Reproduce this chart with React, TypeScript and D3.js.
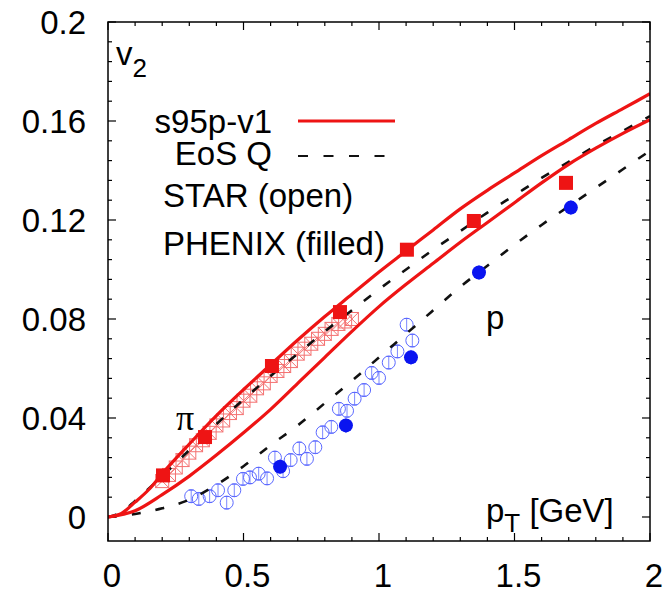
import React from "react";
import * as d3 from "d3";

// ---- data ----
const xTicks = [0, 0.5, 1, 1.5, 2];
const xTickLabels = ["0", "0.5", "1", "1.5", "2"];
const yTicks = [0, 0.04, 0.08, 0.12, 0.16, 0.2];
const yTickLabels = ["0", "0.04", "0.08", "0.12", "0.16", "0.2"];

// hydro s95p-v1 (solid red)
const pionS95pPt = [0, 0.05, 0.1, 0.15, 0.2, 0.3, 0.4, 0.5, 0.6, 0.7, 0.8, 0.9, 1.0, 1.1, 1.2, 1.3, 1.4, 1.5, 1.6, 1.7, 1.8, 1.9, 2.0];
const pionS95pV2 = [0, 0.0015, 0.006, 0.011, 0.0175, 0.0295, 0.041, 0.0515, 0.0615, 0.0715, 0.081, 0.09, 0.099, 0.1075, 0.116, 0.1245, 0.132, 0.139, 0.146, 0.1525, 0.159, 0.165, 0.171];
const protonS95pPt = [0, 0.1, 0.2, 0.3, 0.4, 0.5, 0.6, 0.7, 0.8, 0.9, 1.0, 1.1, 1.2, 1.3, 1.4, 1.5, 1.6, 1.7, 1.8, 1.9, 2.0];
const protonS95pV2 = [0, 0.0025, 0.009, 0.0165, 0.025, 0.034, 0.0435, 0.054, 0.0645, 0.075, 0.085, 0.094, 0.1025, 0.111, 0.119, 0.127, 0.135, 0.1425, 0.149, 0.155, 0.1605];

// EoS Q (dashed black)
const pionEosQPt = [0, 0.05, 0.1, 0.2, 0.3, 0.4, 0.5, 0.6, 0.7, 0.8, 0.9, 1.0, 1.1, 1.2, 1.3, 1.4, 1.5, 1.6, 1.7, 1.8, 1.9, 2.0];
const pionEosQV2 = [0, 0.002, 0.0065, 0.0165, 0.027, 0.0375, 0.0475, 0.057, 0.066, 0.075, 0.0835, 0.092, 0.1, 0.108, 0.1155, 0.123, 0.13, 0.137, 0.1435, 0.15, 0.156, 0.162];
const protonEosQPt = [0, 0.1, 0.2, 0.3, 0.4, 0.5, 0.6, 0.7, 0.8, 0.9, 1.0, 1.1, 1.2, 1.3, 1.4, 1.5, 1.6, 1.7, 1.8, 1.9, 2.0];
const protonEosQV2 = [0, 0.0012, 0.0035, 0.007, 0.013, 0.0205, 0.029, 0.037, 0.046, 0.055, 0.0645, 0.074, 0.0835, 0.093, 0.1015, 0.11, 0.118, 0.1255, 0.133, 0.1405, 0.148];

// PHENIX (filled)
const phenixPionPt = [0.203, 0.358, 0.605, 0.856, 1.103, 1.35, 1.69];
const phenixPionV2 = [0.0168, 0.0323, 0.061, 0.0828, 0.108, 0.1196, 0.135];
const phenixProtonPt = [0.635, 0.878, 1.118, 1.369, 1.708];
const phenixProtonV2 = [0.0203, 0.037, 0.0645, 0.0988, 0.125];

// STAR (open)
const starPionPt = [0.2, 0.225, 0.25, 0.275, 0.3, 0.325, 0.35, 0.375, 0.4, 0.425, 0.45, 0.475, 0.5, 0.525, 0.55, 0.575, 0.6, 0.625, 0.65, 0.675, 0.7, 0.725, 0.75, 0.775, 0.8, 0.825, 0.85, 0.875, 0.9];
const starPionV2 = [0.0145, 0.017, 0.02, 0.023, 0.026, 0.029, 0.031, 0.034, 0.037, 0.039, 0.042, 0.044, 0.047, 0.049, 0.052, 0.054, 0.057, 0.059, 0.061, 0.063, 0.066, 0.068, 0.07, 0.072, 0.074, 0.076, 0.078, 0.079, 0.08];
const starProtonPt = [0.307, 0.335, 0.375, 0.406, 0.438, 0.466, 0.498, 0.524, 0.556, 0.587, 0.616, 0.646, 0.674, 0.706, 0.734, 0.765, 0.792, 0.824, 0.852, 0.882, 0.91, 0.945, 0.973, 1.0, 1.036, 1.068, 1.102, 1.123];
const starProtonV2 = [0.0084, 0.0073, 0.0084, 0.0108, 0.0058, 0.0108, 0.0154, 0.016, 0.0175, 0.0156, 0.024, 0.0185, 0.023, 0.0277, 0.0235, 0.0282, 0.0342, 0.0364, 0.0437, 0.0429, 0.0478, 0.0513, 0.0582, 0.0562, 0.0624, 0.0669, 0.0777, 0.0713];
const starProtonErr = 0.0025;

const RED = "#ee1414";
const BLUE = "#0a14f0";
const LIGHTBLUE = "#4050ff";

const FONT = "'Liberation Sans', Arial, Helvetica, sans-serif";

export default function App() {
  const W = 670, H = 593;
  const left = 108, right = 650, top = 22, bottom = 541;
  const x = d3.scaleLinear().domain([0, 2]).range([left, right]);
  const y = d3.scaleLinear().domain([-0.0097, 0.2]).range([bottom, top]);

  const line = d3.line<[number, number]>()
    .x((d) => x(d[0]))
    .y((d) => y(d[1]))
    .curve(d3.curveMonotoneX);

  const zip = (a: number[], b: number[]) => a.map((v, i) => [v, b[i]] as [number, number]);

  const xMinor = d3.range(0, 2.0001, 0.1);
  const yMinor = d3.range(0, 0.2001, 0.008);

  const fs = 33;

  return (
    <svg width={W} height={H} style={{ position: "absolute", left: 0, top: 0, background: "#fff" }}>
      <rect x={0} y={0} width={W} height={H} fill="#fff" />
      <defs>
        <clipPath id="plotclip">
          <rect x={left} y={top} width={right - left} height={bottom - top} />
        </clipPath>
      </defs>

      {/* ticks */}
      <g stroke="#000" strokeWidth={1.2}>
        {xMinor.map((v, i) => {
          const major = xTicks.some((t) => Math.abs(t - v) < 1e-6);
          const len = major ? 8 : 4;
          return (
            <g key={"xt" + i}>
              <line x1={x(v)} x2={x(v)} y1={bottom} y2={bottom - len} />
              <line x1={x(v)} x2={x(v)} y1={top} y2={top + len} />
            </g>
          );
        })}
        {yMinor.map((v, i) => {
          const major = yTicks.some((t) => Math.abs(t - v) < 1e-6);
          const len = major ? 8 : 4;
          return (
            <g key={"yt" + i}>
              <line x1={left} x2={left + len} y1={y(v)} y2={y(v)} />
              <line x1={right} x2={right - len} y1={y(v)} y2={y(v)} />
            </g>
          );
        })}
      </g>

      {/* tick labels */}
      <g fontFamily={FONT} fontSize={fs} fill="#000">
        {yTicks.map((v, i) => (
          <text key={"yl" + i} x={86} y={y(v) + 12} textAnchor="end">{yTickLabels[i]}</text>
        ))}
        {xTicks.map((v, i) => (
          <text key={"xl" + i} x={x(v) + 4} y={587} textAnchor="middle">{xTickLabels[i]}</text>
        ))}
      </g>

      <g clipPath="url(#plotclip)">
        {/* STAR pion open squares */}
        <g stroke={RED} strokeWidth={1} fill="none" opacity={0.6}>
          {starPionPt.map((p, i) => {
            const cx = x(p), cy = y(starPionV2[i]);
            const s = 6.5;
            return (
              <g key={"sp" + i}>
                <rect x={cx - s} y={cy - s} width={2 * s} height={2 * s} />
                <line x1={cx - s} y1={cy - s} x2={cx + s} y2={cy + s} />
                <line x1={cx - s} y1={cy + s} x2={cx + s} y2={cy - s} />
              </g>
            );
          })}
        </g>

        {/* STAR proton open circles */}
        <g stroke={LIGHTBLUE} strokeWidth={1} fill="none" opacity={0.85}>
          {starProtonPt.map((p, i) => {
            const cx = x(p), cy = y(starProtonV2[i]);
            const e1 = y(starProtonV2[i] + starProtonErr), e2 = y(starProtonV2[i] - starProtonErr);
            return (
              <g key={"spr" + i}>
                <circle cx={cx} cy={cy} r={6.5} />
                <line x1={cx} x2={cx} y1={e1} y2={e2} strokeWidth={0.8} />
                <line x1={cx - 2.5} x2={cx + 2.5} y1={e1} y2={e1} />
                <line x1={cx - 2.5} x2={cx + 2.5} y1={e2} y2={e2} />
              </g>
            );
          })}
        </g>

        {/* curves */}
        <path d={line(zip(pionEosQPt, pionEosQV2)) || ""} fill="none" stroke="#111" strokeWidth={2.6} strokeDasharray="9,15" />
        <path d={line(zip(protonEosQPt, protonEosQV2)) || ""} fill="none" stroke="#111" strokeWidth={2.6} strokeDasharray="9,15" />
        <path d={line(zip(pionS95pPt, pionS95pV2)) || ""} fill="none" stroke={RED} strokeWidth={3.2} />
        <path d={line(zip(protonS95pPt, protonS95pV2)) || ""} fill="none" stroke={RED} strokeWidth={3.2} />

        {/* PHENIX filled */}
        <g fill={RED}>
          {phenixPionPt.map((p, i) => (
            <rect key={"pp" + i} x={x(p) - 7} y={y(phenixPionV2[i]) - 7} width={14} height={14} />
          ))}
        </g>
        <g fill={BLUE}>
          {phenixProtonPt.map((p, i) => (
            <g key={"ppr" + i}>
              <line x1={x(p)} x2={x(p)} y1={y(phenixProtonV2[i] + 0.003)} y2={y(phenixProtonV2[i] - 0.003)} stroke={LIGHTBLUE} strokeWidth={0.8} />
              <circle cx={x(p)} cy={y(phenixProtonV2[i])} r={7} />
            </g>
          ))}
        </g>
      </g>

      {/* frame */}
      <rect x={left} y={top} width={right - left} height={bottom - top} fill="none" stroke="#000" strokeWidth={1.5} />

      {/* legend */}
      <g fontFamily={FONT} fontSize={fs} fill="#000">
        <text x={272} y={133} textAnchor="end">s95p-v1</text>
        <text x={272} y={165} textAnchor="end">EoS Q</text>
        <text x={163} y={207}>STAR (open)</text>
        <text x={163} y={255}>PHENIX (filled)</text>
      </g>
      <line x1={298} x2={395} y1={121} y2={121} stroke={RED} strokeWidth={3.2} />
      <line x1={298} x2={392} y1={156} y2={156} stroke="#111" strokeWidth={2.2} strokeDasharray="10,15.5" />

      {/* annotations */}
      <g fontFamily={FONT} fontSize={fs} fill="#000">
        <text x={116} y={65}>v<tspan fontSize={26} dy={12}>2</tspan></text>
        <text x={486} y={329}>p</text>
        <text x={486} y={522}>p<tspan fontSize={26} dy={10}>T</tspan><tspan dy={-10}> [GeV]</tspan></text>
      </g>
      <text x={176} y={430} fontFamily="'Liberation Serif', 'DejaVu Serif', serif" fontSize={36} fill="#000">π</text>
    </svg>
  );
}
